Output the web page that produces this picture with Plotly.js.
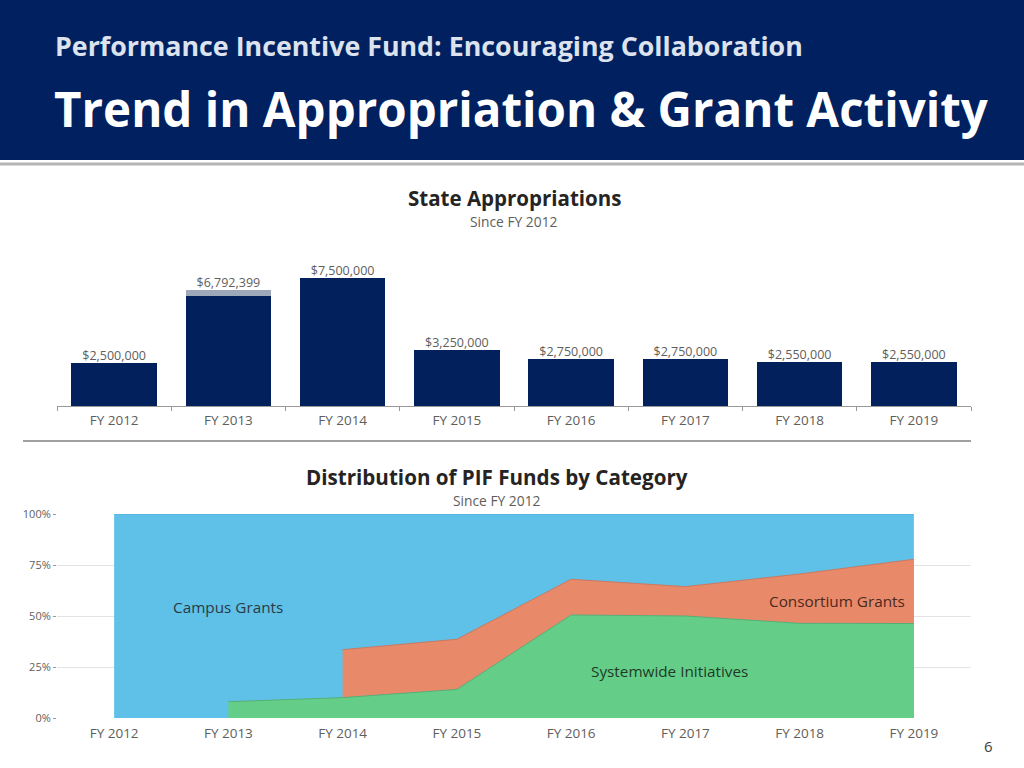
<!DOCTYPE html>
<html>
<head>
<meta charset="utf-8">
<script src="https://cdn.plot.ly/plotly-3.0.1.min.js"></script>
<style>
  html, body { margin: 0; padding: 0; background: #ffffff; }
  #chart { width: 1024px; height: 768px; }
</style>
</head>
<body>
<div id="chart"></div>
<script>
// ---------- DATA ----------
var fiscalYears = ["FY 2012", "FY 2013", "FY 2014", "FY 2015", "FY 2016", "FY 2017", "FY 2018", "FY 2019"];
var appropriationBase = [2500000, 6450000, 7500000, 3250000, 2750000, 2750000, 2550000, 2550000];
var appropriationExtra = [0, 342399, 0, 0, 0, 0, 0, 0];
var appropriationTotal = [2500000, 6792399, 7500000, 3250000, 2750000, 2750000, 2550000, 2550000];

// shares of PIF funds (fractions), null = category not present
var systemwideShare = [null, 0.08, 0.10, 0.14, 0.505, 0.50, 0.464, 0.463];
var consortiumShare = [null, null, 0.235, 0.246, 0.175, 0.144, 0.242, 0.315];
var campusShare = [1.00, 0.92, 0.665, 0.614, 0.32, 0.356, 0.294, 0.222];

var pctTicks = [0, 0.25, 0.5, 0.75, 1];
var pctTickText = ["0%", "25%", "50%", "75%", "100%"];

// ---------- HELPERS ----------
var W = 1024, H = 768;
function px(x) { return x / W; }
function py(y) { return 1 - y / H; }
var FONT = "Open Sans, Noto Sans, sans-serif";

function fmtMoney(v) { return "$" + v.toLocaleString("en-US"); }

// cumulative stacks built from the shares
function pickX(arr) { var o = []; arr.forEach(function (v, i) { if (v !== null) o.push(fiscalYears[i]); }); return o; }
var sysX = pickX(systemwideShare);
var sysY = systemwideShare.filter(function (v) { return v !== null; });
var consX = pickX(consortiumShare);
var consY = [];
consortiumShare.forEach(function (v, i) { if (v !== null) consY.push(v + (systemwideShare[i] || 0)); });
var campusY = campusShare.map(function (v, i) { return v + (consortiumShare[i] || 0) + (systemwideShare[i] || 0); });

var traces = [
  { type: "bar", x: fiscalYears, y: appropriationBase, marker: { color: "#01205C" }, xaxis: "x", yaxis: "y", hoverinfo: "skip" },
  { type: "bar", x: fiscalYears, y: appropriationExtra, marker: { color: "#9DA8B8" }, xaxis: "x", yaxis: "y", hoverinfo: "skip" },
  { type: "scatter", mode: "text", x: fiscalYears, y: appropriationTotal, text: appropriationTotal.map(fmtMoney),
    textposition: "top center", textfont: { family: FONT, size: 12.5, color: "#605E5C" }, xaxis: "x", yaxis: "y", hoverinfo: "skip" },

  { type: "scatter", mode: "lines", x: fiscalYears, y: campusY, fill: "tozeroy", fillcolor: "#5FC1E8",
    line: { color: "#52B0D6", width: 1 }, xaxis: "x2", yaxis: "y2", hoverinfo: "skip" },
  { type: "scatter", mode: "lines", x: consX, y: consY, fill: "tozeroy", fillcolor: "#E8896A",
    line: { color: "#C97A62", width: 1 }, xaxis: "x2", yaxis: "y2", hoverinfo: "skip" },
  { type: "scatter", mode: "lines", x: sysX, y: sysY, fill: "tozeroy", fillcolor: "#64CE89",
    line: { color: "#55B078", width: 1 }, xaxis: "x2", yaxis: "y2", hoverinfo: "skip" }
];

var layout = {
  width: W, height: H,
  margin: { l: 0, r: 0, t: 0, b: 0 },
  paper_bgcolor: "#ffffff", plot_bgcolor: "rgba(0,0,0,0)",
  showlegend: false,
  barmode: "stack", bargap: 0.25,
  font: { family: FONT, color: "#605E5C" },
  xaxis: {
    domain: [px(57), px(971)], anchor: "y", type: "category", range: [-0.5, 7.5],
    showline: true, linecolor: "#999999", linewidth: 1,
    ticks: "outside", tickson: "boundaries", ticklen: 4, tickcolor: "#999999",
    ticklabelstandoff: 2,
    tickfont: { family: FONT, size: 13.5, color: "#605E5C" }, showgrid: false, fixedrange: true
  },
  yaxis: {
    domain: [py(406), py(252)], anchor: "x", range: [0, 9000000],
    visible: false, showgrid: false, zeroline: false, fixedrange: true
  },
  xaxis2: {
    domain: [px(57), px(971)], anchor: "y2", type: "category", range: [-0.5, 7.5],
    showline: false, ticks: "", showgrid: false, zeroline: false,
    ticklabelstandoff: 5,
    tickfont: { family: FONT, size: 13.5, color: "#605E5C" }, fixedrange: true
  },
  yaxis2: {
    domain: [py(718), py(514)], anchor: "x2", range: [0, 1],
    tickvals: pctTicks, ticktext: pctTickText,
    ticks: "outside", ticklen: 3, tickcolor: "#999999",
    showgrid: true, gridcolor: "#E3E3E3", gridwidth: 1, zeroline: false, showline: false,
    tickfont: { family: FONT, size: 11, color: "#605E5C" }, fixedrange: true
  },
  shapes: [
    { type: "rect", xref: "paper", yref: "paper", x0: 0, x1: 1, y0: py(160), y1: 1, fillcolor: "#002060", line: { width: 0 }, layer: "below" },
    { type: "line", xref: "paper", yref: "paper", x0: 0, x1: 1, y0: py(164), y1: py(164), line: { color: "#B5B5B5", width: 3 } },
    { type: "line", xref: "paper", yref: "paper", x0: px(23), x1: px(971), y0: py(441), y1: py(441), line: { color: "#A0A0A0", width: 2 } }
  ],
  annotations: [
    { xref: "paper", yref: "paper", x: px(53), y: py(45), xanchor: "left", yanchor: "middle", showarrow: false,
      text: "<b>Performance Incentive Fund: Encouraging Collaboration</b>", font: { family: FONT, size: 26.8, color: "#DCE3EE" } },
    { xref: "paper", yref: "paper", x: px(52), y: py(108), xanchor: "left", yanchor: "middle", showarrow: false,
      text: "<b>Trend in Appropriation &amp; Grant Activity</b>", font: { family: FONT, size: 47.5, color: "#FFFFFF" } },

    { xref: "paper", yref: "paper", x: px(514), y: py(198), xanchor: "center", yanchor: "middle", showarrow: false,
      text: "<b>State Appropriations</b>", font: { family: FONT, size: 20.5, color: "#252423" } },
    { xref: "paper", yref: "paper", x: px(514), y: py(221), xanchor: "center", yanchor: "middle", showarrow: false,
      text: "Since FY 2012", font: { family: FONT, size: 13.8, color: "#605E5C" } },

    { xref: "paper", yref: "paper", x: px(497), y: py(477), xanchor: "center", yanchor: "middle", showarrow: false,
      text: "<b>Distribution of PIF Funds by Category</b>", font: { family: FONT, size: 20.6, color: "#252423" } },
    { xref: "paper", yref: "paper", x: px(497), y: py(500), xanchor: "center", yanchor: "middle", showarrow: false,
      text: "Since FY 2012", font: { family: FONT, size: 13.8, color: "#605E5C" } },

    { xref: "x2", yref: "y2", x: "FY 2013", y: 0.545, xanchor: "center", yanchor: "middle", showarrow: false,
      text: "Campus Grants", font: { family: FONT, size: 15.3, color: "#2A3A45" } },
    { xref: "x2", yref: "y2", x: "FY 2018", y: 0.575, xanchor: "center", yanchor: "middle", showarrow: false, xshift: 37,
      text: "Consortium Grants", font: { family: FONT, size: 15.3, color: "#4A2A20" } },
    { xref: "x2", yref: "y2", x: "FY 2017", y: 0.23, xanchor: "center", yanchor: "middle", showarrow: false, xshift: -16,
      text: "Systemwide Initiatives", font: { family: FONT, size: 15.3, color: "#1F3A28" } },

    { xref: "paper", yref: "paper", x: px(988), y: py(746), xanchor: "center", yanchor: "middle", showarrow: false,
      text: "6", font: { family: FONT, size: 15, color: "#404040" } }
  ]
};

Plotly.newPlot("chart", traces, layout, { staticPlot: true, displayModeBar: false });
</script>
</body>
</html>
